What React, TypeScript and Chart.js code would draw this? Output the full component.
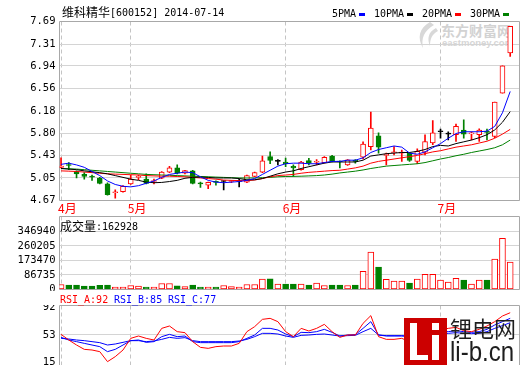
import React, { useEffect, useRef } from 'react';
import { Chart, registerables } from 'chart.js';

Chart.register(...registerables);

// ---------------- data ----------------
const monthTicks = [0, 9, 29, 49];
const monthLabels = ['4月', '5月', '6月', '7月'];
const priceTickLabels = ['4.67', '5.05', '5.43', '5.80', '6.18', '6.56', '6.94', '7.31', '7.69'];
const volumeTickLabels = ['0', '86735', '173470', '260205', '346940'];
const rsiTickLabels = ['15', '53', '92'];

const openPrice = [
  5.23, 5.27, 5.16, 5.11, 5.07, 5.05, 4.95, 4.80, 4.82, 4.95,
  5.06, 5.03, 4.99, 5.045, 5.15, 5.22, 5.13, 5.17, 4.955, 4.93,
  4.98, 4.99, 4.99, 4.99, 4.98, 5.075, 5.15, 5.41, 5.33, 5.32,
  5.245, 5.19, 5.345, 5.315, 5.31, 5.42, 5.325, 5.27, 5.335, 5.40,
  5.58, 5.76, 5.43, 5.475, 5.47, 5.47, 5.33, 5.485, 5.64, 5.83,
  5.79, 5.78, 5.86, 5.795, 5.78, 5.825, 5.75, 6.48, 7.16,
];
const closePrice = [
  5.25, 5.26, 5.12, 5.075, 5.065, 4.96, 4.77, 4.81, 4.91, 5.03,
  5.07, 4.96, 5.00, 5.15, 5.22, 5.13, 5.175, 4.96, 4.95, 4.975,
  4.975, 4.99, 5.00, 4.99, 5.09, 5.14, 5.34, 5.345, 5.33, 5.29,
  5.22, 5.32, 5.30, 5.32, 5.40, 5.33, 5.32, 5.355, 5.33, 5.62,
  5.89, 5.57, 5.45, 5.48, 5.48, 5.345, 5.50, 5.665, 5.81, 5.83,
  5.79, 5.92, 5.79, 5.80, 5.86, 5.82, 6.33, 6.94, 7.61,
];
const highPrice = [
  5.39, 5.31, 5.17, 5.14, 5.10, 5.06, 4.97, 4.85, 4.92, 5.10,
  5.10, 5.12, 5.03, 5.16, 5.245, 5.27, 5.18, 5.18, 4.98, 4.98,
  5.00, 5.00, 5.01, 5.03, 5.10, 5.15, 5.42, 5.49, 5.36, 5.385,
  5.27, 5.33, 5.38, 5.36, 5.41, 5.43, 5.34, 5.36, 5.36, 5.66,
  6.16, 5.81, 5.47, 5.58, 5.52, 5.48, 5.54, 5.78, 6.02, 5.875,
  5.83, 5.96, 6.03, 5.83, 5.88, 5.875, 6.33, 6.94, 7.61,
];
const lowPrice = [
  5.22, 5.19, 5.05, 5.03, 5.01, 4.95, 4.76, 4.71, 4.81, 4.94,
  5.02, 4.95, 4.95, 5.04, 5.14, 5.12, 5.12, 4.95, 4.89, 4.87,
  4.93, 4.85, 4.97, 4.90, 4.97, 5.07, 5.14, 5.29, 5.27, 5.24,
  5.075, 5.18, 5.27, 5.27, 5.30, 5.32, 5.22, 5.26, 5.30, 5.37,
  5.525, 5.47, 5.27, 5.44, 5.33, 5.33, 5.29, 5.44, 5.61, 5.72,
  5.69, 5.665, 5.72, 5.69, 5.665, 5.69, 5.73, 6.48, 7.10,
];

const ma5 = [
  5.28, 5.30, 5.27, 5.23, 5.16, 5.09, 5.00, 4.94, 4.91, 4.90,
  4.92, 4.96, 5.00, 5.06, 5.11, 5.13, 5.15, 5.14, 5.07, 5.01,
  4.98, 4.97, 4.98, 4.99, 5.01, 5.04, 5.11, 5.18, 5.25, 5.29,
  5.30, 5.30, 5.29, 5.29, 5.31, 5.33, 5.33, 5.35, 5.35, 5.39,
  5.48, 5.53, 5.56, 5.59, 5.57, 5.47, 5.45, 5.49, 5.56, 5.63,
  5.72, 5.80, 5.83, 5.83, 5.83, 5.84, 5.92, 6.15, 6.51,
];
const ma10 = [
  5.21, 5.20, 5.19, 5.17, 5.155, 5.14, 5.12, 5.09, 5.06, 5.03,
  5.01, 4.98, 4.97, 4.975, 4.99, 5.01, 5.045, 5.06, 5.065, 5.06,
  5.05, 5.05, 5.05, 5.04, 5.02, 5.02, 5.04, 5.08, 5.12, 5.15,
  5.17, 5.21, 5.24, 5.27, 5.30, 5.32, 5.32, 5.32, 5.32, 5.35,
  5.42, 5.44, 5.46, 5.47, 5.48, 5.48, 5.50, 5.53, 5.58, 5.60,
  5.59, 5.63, 5.66, 5.69, 5.73, 5.78, 5.86, 5.99, 6.17,
];
const ma20 = [
  5.17, 5.165, 5.16, 5.15, 5.14, 5.13, 5.12, 5.115, 5.11, 5.105,
  5.10, 5.09, 5.085, 5.08, 5.08, 5.075, 5.07, 5.06, 5.05, 5.04,
  5.03, 5.015, 5.01, 5.005, 5.005, 5.015, 5.04, 5.07, 5.09, 5.10,
  5.11, 5.13, 5.145, 5.155, 5.165, 5.175, 5.18, 5.20, 5.22, 5.25,
  5.30, 5.33, 5.35, 5.37, 5.39, 5.41, 5.43, 5.46, 5.49, 5.51,
  5.54, 5.57, 5.59, 5.61, 5.64, 5.67, 5.72, 5.79, 5.87,
];
const ma30 = [
  5.21, 5.205, 5.20, 5.19, 5.18, 5.17, 5.16, 5.15, 5.14, 5.13,
  5.12, 5.11, 5.105, 5.10, 5.095, 5.09, 5.085, 5.08, 5.075, 5.07,
  5.065, 5.06, 5.055, 5.05, 5.05, 5.05, 5.055, 5.06, 5.07, 5.075,
  5.077, 5.08, 5.085, 5.09, 5.10, 5.115, 5.135, 5.15, 5.165, 5.185,
  5.21, 5.23, 5.25, 5.26, 5.27, 5.28, 5.29, 5.31, 5.34, 5.37,
  5.395, 5.425, 5.45, 5.48, 5.505, 5.53, 5.56, 5.61, 5.69,
];

const volume = [
  30000, 26000, 26000, 20000, 20000, 25000, 26000, 14000, 14000, 24000,
  20000, 14000, 14000, 36000, 36000, 22000, 18000, 26000, 14000, 14000,
  14000, 24000, 18000, 14000, 30000, 30000, 62000, 63000, 32000, 32000,
  32000, 32000, 26000, 38000, 24000, 26000, 26000, 24000, 26000, 109000,
  223000, 133000, 60000, 50000, 50000, 38000, 62000, 91000, 91000, 56000,
  44000, 66000, 56000, 32000, 56000, 56000, 181000, 305000, 162928,
];

const rsiA = [
  53.7, 45.8, 38.8, 32.7, 31.8, 29.5, 15.5, 22.5, 31.8, 48.1,
  51.4, 48.1, 45.8, 62.1, 65.4, 57.5, 56.1, 43.5, 35.5, 34.1,
  36.5, 37.4, 37.4, 41.1, 57.5, 64.5, 74.7, 76.1, 71.5, 57.5,
  50.5, 62.1, 58.4, 62.1, 67.7, 57.5, 49.5, 52.8, 52.8, 69.1,
  79.9, 50.5, 46.7, 46.7, 48.1, 43.5, 54.0, 62.0, 66.0, 60.0,
  62.1, 63.5, 58.9, 57.5, 60.7, 65.4, 71.5, 79.4, 84.0,
];
const rsiB = [
  49.5, 45.8, 43.5, 41.1, 38.8, 36.5, 29.5, 32.7, 38.8, 44.9,
  45.8, 42.5, 43.5, 50.5, 53.7, 50.5, 51.4, 43.5, 42.1, 42.1,
  42.1, 42.1, 42.1, 43.5, 48.1, 52.8, 62.1, 62.1, 59.8, 54.2,
  50.5, 56.5, 56.1, 57.5, 60.7, 56.5, 51.4, 52.8, 53.3, 62.1,
  71.5, 52.8, 51.4, 51.4, 51.4, 50.5, 52.8, 55.1, 57.5, 57.5,
  57.5, 58.9, 57.5, 56.5, 57.5, 60.7, 66.8, 71.5, 76.1,
];
const rsiC = [
  48.1, 47.2, 45.8, 44.9, 43.5, 42.1, 38.8, 40.2, 42.5, 44.9,
  44.9, 43.5, 44.4, 46.7, 49.5, 48.1, 49.1, 44.9, 43.5, 43.5,
  43.5, 43.5, 43.5, 44.4, 46.7, 50.5, 55.1, 55.1, 54.2, 51.4,
  49.5, 52.3, 52.8, 53.7, 54.2, 52.8, 51.4, 51.9, 52.3, 57.5,
  62.1, 52.8, 51.9, 51.9, 51.9, 51.4, 52.3, 53.3, 54.7, 55.1,
  55.1, 56.1, 55.1, 54.7, 55.1, 57.5, 62.1, 65.9, 70.1,
];

// ---------------- styles ----------------
const RED = '#ff0000';
const GREEN = '#008000';
const BLUE = '#0000ff';
const BLACK = '#000000';
const GRID = '#d4d4d4';
const FRAME = '#a8a8a8';
const DASH = '#c4c4c4';
const MONO = "'DejaVu Sans Mono', monospace";
const CJK = "'Noto Sans CJK SC', sans-serif";
const tickFont = { family: MONO, size: 10.5 };

const X_MIN = -0.2;
const X_MAX = 59.2;
const AXIS_W = 59.5;

const idx = closePrice.map((_, i) => i);
const candleColor = idx.map((i) =>
  closePrice[i] > openPrice[i] ? RED : closePrice[i] < openPrice[i] ? GREEN : BLACK
);
const volDown = idx.map((i) => closePrice[i] < openPrice[i]);

function framePlugin(sides: string) {
  return {
    id: 'frame',
    beforeDatasetsDraw(chart: any) {
      const { ctx, chartArea } = chart;
      const { left, right, top, bottom } = chartArea;
      ctx.save();
      ctx.strokeStyle = FRAME;
      ctx.lineWidth = 1;
      ctx.beginPath();
      if (sides.includes('t')) { ctx.moveTo(left, top); ctx.lineTo(right, top); }
      if (sides.includes('b')) { ctx.moveTo(left, bottom); ctx.lineTo(right, bottom); }
      if (sides.includes('l')) { ctx.moveTo(left, top); ctx.lineTo(left, bottom); }
      if (sides.includes('r')) { ctx.moveTo(right, top); ctx.lineTo(right, bottom); }
      ctx.stroke();
      ctx.restore();
    },
  };
}

const noPad = (s: any) => {
  s.paddingTop = 0;
  s.paddingBottom = 0;
  s.paddingLeft = 0;
  s.paddingRight = 0;
};

function xAxis(showLabels: boolean, height: number) {
  return {
    type: 'linear',
    min: X_MIN,
    max: X_MAX,
    offset: false,
    afterBuildTicks: (s: any) => { s.ticks = monthTicks.map((v) => ({ value: v })); },
    afterFit: (s: any) => { s.height = height; noPad(s); },
    ticks: {
      display: showLabels,
      autoSkip: false,
      maxRotation: 0,
      minRotation: 0,
      align: 'start',
      labelOffset: -3,
      padding: 1,
      color: RED,
      font: { family: CJK, size: 12 },
      callback: (_v: any, i: number) => monthLabels[i],
    },
    grid: { display: true, offset: false, drawTicks: false, color: DASH, lineWidth: 1 },
    border: { display: false, dash: [4, 3] },
  };
}

function yAxis(min: number, max: number, labels: string[], gridColor: any) {
  return {
    type: 'linear',
    min,
    max,
    beginAtZero: false,
    afterBuildTicks: (s: any) => { s.ticks = labels.map((l) => ({ value: Number(l) })); },
    afterFit: (s: any) => { s.width = AXIS_W; noPad(s); },
    ticks: {
      autoSkip: false,
      padding: 4,
      color: BLACK,
      font: tickFont,
      callback: (_v: any, i: number) => labels[i],
    },
    grid: { color: gridColor, drawTicks: false, lineWidth: 1 },
    border: { display: false },
  };
}

const baseOptions = {
  responsive: false,
  animation: false,
  events: [],
  plugins: { legend: { display: false }, tooltip: { enabled: false } },
};

function lineDs(values: number[], color: string, order: number) {
  return {
    type: 'line',
    data: values.map((v, i) => ({ x: i, y: v })),
    borderColor: color,
    borderWidth: 1,
    pointRadius: 0,
    tension: 0,
    fill: false,
    order,
  };
}

function mainConfig() {
  return {
    type: 'bar',
    data: {
      datasets: [
        {
          type: 'bar',
          data: idx.map((i) => ({ x: i, y: [lowPrice[i], highPrice[i]] })),
          backgroundColor: candleColor,
          borderWidth: 0,
          barThickness: 1,
          grouped: false,
          order: 6,
        },
        {
          type: 'bar',
          data: idx.map((i) => ({ x: i, y: [openPrice[i], closePrice[i]] })),
          backgroundColor: idx.map((i) => (candleColor[i] === RED ? '#ffffff' : candleColor[i])),
          borderColor: candleColor,
          borderWidth: 1,
          borderSkipped: false,
          barThickness: 5,
          minBarLength: 1,
          grouped: false,
          order: 5,
        },
        lineDs(ma30, GREEN, 4),
        lineDs(ma20, RED, 3),
        lineDs(ma10, BLACK, 2),
        lineDs(ma5, BLUE, 1),
      ],
    },
    options: {
      ...baseOptions,
      indexAxis: 'x',
      layout: { autoPadding: false, padding: { top: 21.5, right: 0.5, left: 0, bottom: 0 } },
      scales: {
        x: xAxis(true, 15.5),
        y: yAxis(4.67, 7.69, priceTickLabels, GRID),
      },
    },
    plugins: [framePlugin('tblr')],
  };
}

function volumeConfig() {
  const top = Number(volumeTickLabels[volumeTickLabels.length - 1]);
  const volMax = (top * 73) / 58.2;
  return {
    type: 'bar',
    data: {
      datasets: [
        {
          type: 'bar',
          data: idx.map((i) => ({ x: i, y: volume[i] })),
          backgroundColor: idx.map((i) => (volDown[i] ? GREEN : '#ffffff')),
          borderColor: idx.map((i) => (volDown[i] ? GREEN : RED)),
          borderWidth: 1,
          borderSkipped: false,
          barThickness: 6,
          grouped: false,
        },
      ],
    },
    options: {
      ...baseOptions,
      indexAxis: 'x',
      layout: { autoPadding: false, padding: { top: 0.5, right: 0.5, left: 0, bottom: 1.5 } },
      scales: {
        x: xAxis(false, 0),
        y: yAxis(0, volMax, volumeTickLabels, GRID),
      },
    },
    plugins: [framePlugin('tblr')],
  };
}

function rsiConfig() {
  return {
    type: 'line',
    data: {
      datasets: [
        lineDs(rsiC, BLUE, 3),
        lineDs(rsiB, BLUE, 2),
        lineDs(rsiA, RED, 1),
      ],
    },
    options: {
      ...baseOptions,
      layout: { autoPadding: false, padding: { top: 0.5, right: 0.5, left: 0, bottom: 0 } },
      scales: {
        x: xAxis(false, 0),
        y: yAxis(10.8, 94.1, rsiTickLabels, (c: any) =>
          c.tick && c.tick.value === 53 ? GRID : 'rgba(0,0,0,0)'
        ),
      },
    },
    plugins: [framePlugin('tlr')],
  };
}

const abs = (left: number, top: number, extra: any = {}) => ({
  position: 'absolute' as const,
  left,
  top,
  whiteSpace: 'nowrap' as const,
  margin: 0,
  padding: 0,
  ...extra,
});

const monoText = (size = 10) => ({ fontFamily: MONO, fontSize: size, lineHeight: `${size}px` });
const cjkText = (size = 12) => ({ fontFamily: CJK, fontSize: size, lineHeight: `${size}px` });

export default function App() {
  const mainRef = useRef<HTMLCanvasElement>(null);
  const volRef = useRef<HTMLCanvasElement>(null);
  const rsiRef = useRef<HTMLCanvasElement>(null);

  useEffect(() => {
    const charts: Chart[] = [];
    if (mainRef.current) charts.push(new Chart(mainRef.current, mainConfig() as any));
    if (volRef.current) charts.push(new Chart(volRef.current, volumeConfig() as any));
    if (rsiRef.current) charts.push(new Chart(rsiRef.current, rsiConfig() as any));
    return () => charts.forEach((c) => c.destroy());
  }, []);

  const legend = [
    { label: '5PMA', left: 332, mark: 359, color: BLUE },
    { label: '10PMA', left: 374, mark: 407, color: BLACK },
    { label: '20PMA', left: 422, mark: 455, color: RED },
    { label: '30PMA', left: 470, mark: 503, color: GREEN },
  ];

  return (
    <div
      style={{
        position: 'fixed',
        left: 0,
        top: 0,
        width: 520,
        height: 365,
        background: '#ffffff',
        overflow: 'hidden',
        color: '#000',
      }}
    >
      {/* eastmoney watermark (under the chart) */}
      <svg width={24} height={28} style={abs(415, 21)}>
        <path d="M15 1 C4 7 2 17 8 27 C6 17 9 10 19 4 Z" fill="#d8d8d8" />
        <path d="M21 7 C13 11 12 18 15 25 C15 18 17 13 23 10 Z" fill="#d8d8d8" />
      </svg>
      <div style={abs(441, 23, { ...cjkText(14), fontWeight: 'bold', color: '#d2d2d2' })}>东方财富网</div>
      <div
        style={abs(442, 38, {
          fontFamily: "'Liberation Sans', sans-serif",
          fontSize: 9.5,
          lineHeight: '9.5px',
          fontWeight: 'bold',
          color: '#d6d6d6',
        })}
      >
        eastmoney.com
      </div>

      <canvas ref={mainRef} width={520} height={216} style={abs(0, 0)} />
      <canvas ref={volRef} width={520} height={75} style={abs(0, 216)} />
      <canvas ref={rsiRef} width={520} height={60} style={abs(0, 305)} />

      {/* title */}
      <div style={abs(62, 6, cjkText(12))}>维科精华</div>
      <div style={abs(110, 8, monoText(10))}>[600152] 2014-07-14</div>

      {/* legend */}
      {legend.map((l) => (
        <React.Fragment key={l.label}>
          <div style={abs(l.left, 9, monoText(10))}>{l.label}</div>
          <div style={abs(l.mark, 13, { width: 6, height: 3, background: l.color })} />
        </React.Fragment>
      ))}

      {/* volume title */}
      <div style={abs(60, 220, cjkText(12))}>成交量</div>
      <div style={abs(96, 222, monoText(10))}>:162928</div>

      {/* RSI title */}
      <div style={abs(60, 295, { ...monoText(10), color: RED })}>RSI_A:92</div>
      <div style={abs(114, 295, { ...monoText(10), color: BLUE })}>RSI_B:85</div>
      <div style={abs(168, 295, { ...monoText(10), color: BLUE })}>RSI_C:77</div>

      {/* li-b.cn logo (over the chart) */}
      <div style={abs(404, 318, { width: 43, height: 47, background: '#cc0000' })}>
        <div style={abs(6, 5, { width: 7, height: 37, background: '#ffffff' })} />
        <div style={abs(6, 37, { width: 18, height: 5, background: '#ffffff' })} />
        <div style={abs(28, 5, { width: 7, height: 7, background: '#ffffff' })} />
        <div style={abs(28, 17, { width: 7, height: 25, background: '#ffffff' })} />
      </div>
      <div style={abs(450, 316, { ...cjkText(22), color: '#1e1e1e' })}>锂电网</div>
      <div
        style={abs(450, 338, {
          fontFamily: "'Liberation Sans', sans-serif",
          fontSize: 28,
          lineHeight: '28px',
          color: '#1e1e1e',
          transform: 'scaleX(0.86)',
          transformOrigin: 'left top',
        })}
      >
        li-b.cn
      </div>
    </div>
  );
}
